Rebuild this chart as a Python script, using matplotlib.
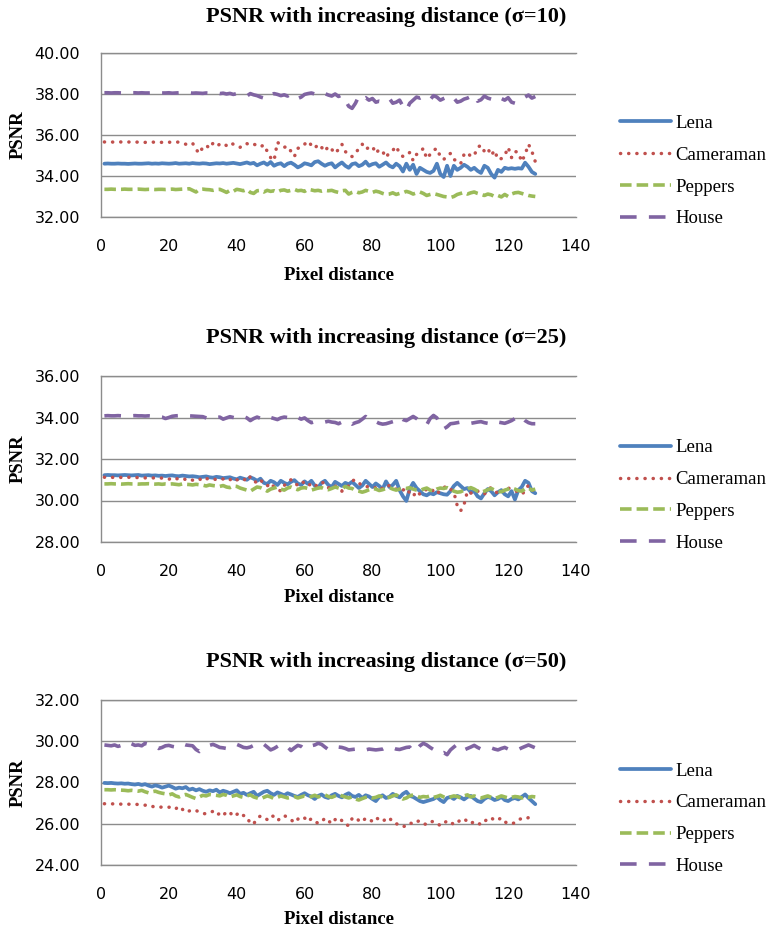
import numpy as np
import matplotlib
matplotlib.use("Agg")
import matplotlib.pyplot as plt

# ---------------- data ----------------
distance = list(range(1, 129))
series_names = ["Lena", "Cameraman", "Peppers", "House"]
titles = ["PSNR with increasing distance (\u03c3=10)",
          "PSNR with increasing distance (\u03c3=25)",
          "PSNR with increasing distance (\u03c3=50)"]
x_ticks = [0, 20, 40, 60, 80, 100, 120, 140]
y_ticks_1 = [32, 34, 36, 38, 40]
y_ticks_2 = [28, 30, 32, 34, 36]
y_ticks_3 = [24, 26, 28, 30, 32]

lena_10 = [
34.60,34.61,34.60,34.60,34.61,34.60,34.60,34.59,34.60,34.61,34.60,34.60,34.61,34.62,34.60,34.61,
34.60,34.62,34.61,34.60,34.61,34.63,34.60,34.61,34.62,34.60,34.63,34.61,34.60,34.62,34.61,34.58,
34.60,34.62,34.61,34.63,34.60,34.62,34.64,34.61,34.58,34.62,34.66,34.60,34.64,34.52,34.60,34.66,
34.55,34.68,34.50,34.58,34.62,34.48,34.60,34.65,34.55,34.42,34.50,34.62,34.58,34.52,34.68,34.72,
34.60,34.50,34.58,34.62,34.42,34.55,34.66,34.50,34.40,34.58,34.62,34.48,34.55,34.70,34.50,34.58,
34.62,34.45,34.55,34.66,34.50,34.42,34.60,34.48,34.22,34.60,34.30,34.55,34.10,34.40,34.30,34.20,
34.15,34.25,34.60,34.10,33.95,34.50,34.00,34.50,34.30,34.40,34.55,34.45,34.30,34.40,34.25,34.15,
34.50,34.40,34.10,33.92,34.30,34.20,34.40,34.35,34.38,34.35,34.38,34.36,34.65,34.45,34.20,34.10]
cameraman_10 = [
35.66,35.66,35.66,35.65,35.66,35.66,35.65,35.66,35.65,35.66,35.65,35.65,35.64,35.65,35.66,35.64,
35.65,35.64,35.66,35.65,35.64,35.66,35.65,35.60,35.55,35.62,35.60,35.30,35.10,35.40,35.50,35.35,
35.60,35.45,35.55,35.60,35.48,35.62,35.55,35.45,35.40,35.55,35.58,35.50,35.55,35.50,35.42,35.52,
35.20,34.90,34.75,35.65,35.50,35.40,35.45,35.20,34.95,35.35,35.40,35.55,35.70,35.50,35.35,35.55,
35.40,35.20,35.45,35.30,35.10,35.30,35.55,35.20,35.00,34.95,35.10,35.35,35.55,35.30,35.40,35.45,
35.10,35.30,35.20,34.90,35.15,35.25,35.45,35.10,34.95,35.00,35.15,34.75,35.05,35.15,35.35,34.85,
35.05,35.25,35.35,34.95,34.80,35.00,35.10,34.80,34.75,34.60,35.05,35.15,34.95,35.00,35.40,35.50,
35.20,35.35,35.00,35.25,34.80,34.85,35.00,35.40,34.90,35.20,35.15,34.70,35.05,35.55,35.20,34.70]
peppers_10 = [
33.35,33.35,33.36,33.35,33.35,33.35,33.36,33.35,33.35,33.35,33.36,33.35,33.34,33.35,33.35,33.34,
33.35,33.35,33.34,33.35,33.36,33.34,33.35,33.36,33.35,33.38,33.30,33.22,33.35,33.36,33.34,33.33,
33.30,33.34,33.35,33.28,33.20,33.30,33.25,33.35,33.32,33.28,33.34,33.20,33.15,33.28,33.30,33.22,
33.30,33.25,33.28,33.22,33.30,33.32,33.26,33.30,33.35,33.28,33.30,33.25,33.35,33.32,33.28,33.30,
33.26,33.30,33.28,33.30,33.24,33.20,33.28,33.30,33.12,33.20,33.25,33.18,33.22,33.30,33.25,33.20,
33.26,33.22,33.15,33.10,33.12,33.18,33.10,33.15,33.18,33.25,33.20,33.12,33.18,33.22,33.15,33.05,
33.10,33.14,33.10,33.05,33.00,32.98,32.95,33.00,33.10,33.15,33.20,33.12,33.18,33.22,33.15,33.10,
33.05,33.12,33.08,33.00,33.05,32.98,33.10,33.00,33.12,33.18,33.20,33.15,33.10,33.05,33.02,33.00]
house_10 = [
38.06,38.06,38.05,38.06,38.06,38.05,38.06,38.05,38.06,38.06,38.05,38.06,38.05,38.05,38.06,38.05,
38.06,38.05,38.05,38.06,38.04,38.05,38.06,38.05,38.04,38.06,38.04,38.05,38.04,38.03,38.05,38.04,
38.04,38.05,38.02,38.04,38.00,38.03,37.98,38.02,37.98,37.95,37.90,38.02,37.96,37.92,37.85,37.80,
38.00,37.95,38.02,37.98,37.92,37.96,37.90,38.00,37.88,37.78,37.85,37.98,38.02,38.05,38.00,37.95,
38.05,38.02,37.95,37.90,38.00,37.88,37.95,37.70,37.40,37.30,37.55,37.90,37.75,37.82,37.70,37.78,
37.60,37.65,37.62,37.72,37.78,37.55,37.60,37.70,37.40,37.20,37.55,37.70,37.85,37.80,37.88,37.82,
37.72,37.92,37.85,37.70,37.78,37.85,37.92,37.80,37.60,37.65,37.75,37.80,37.88,37.95,37.65,37.72,
37.90,37.80,37.75,37.85,37.90,37.78,37.70,37.82,37.60,37.55,37.62,37.70,37.85,37.95,37.80,37.88]

lena_25 = [
31.22,31.23,31.22,31.22,31.21,31.22,31.23,31.22,31.21,31.22,31.23,31.20,31.21,31.22,31.20,31.21,
31.19,31.20,31.18,31.20,31.21,31.18,31.17,31.20,31.18,31.16,31.17,31.15,31.12,31.14,31.16,31.12,
31.10,31.14,31.12,31.08,31.10,31.12,31.06,31.02,31.10,31.05,31.00,31.12,31.05,30.95,31.05,30.85,
30.80,30.95,30.88,30.75,30.95,30.85,30.78,30.90,30.98,30.82,30.75,30.92,30.80,30.95,30.72,30.62,
30.85,30.95,30.75,30.65,30.90,30.80,30.70,30.85,30.78,30.90,30.75,30.60,30.72,30.95,30.80,30.65,
30.82,30.70,30.55,30.92,30.65,30.75,30.95,30.50,30.20,29.98,30.55,30.85,30.60,30.45,30.30,30.25,
30.35,30.30,30.40,30.35,30.30,30.28,30.45,30.70,30.85,30.70,30.55,30.60,30.40,30.45,30.20,30.10,
30.35,30.55,30.45,30.25,30.40,30.50,30.30,30.20,30.45,30.05,30.50,30.65,30.95,30.85,30.45,30.35]
cameraman_25 = [
31.12,31.12,31.11,31.12,31.12,31.11,31.10,31.12,31.11,31.10,31.11,31.10,31.09,31.10,31.08,31.10,
31.09,31.08,31.06,31.02,31.10,31.04,31.06,31.08,31.00,31.05,30.98,31.06,31.04,30.95,31.06,31.02,
31.05,31.00,30.98,31.04,30.95,31.02,30.90,31.00,30.98,31.05,30.92,31.15,30.95,30.85,31.00,30.80,
30.70,30.85,30.65,30.55,30.45,30.72,30.90,31.00,30.80,30.75,30.92,30.85,30.70,30.82,30.68,30.78,
30.90,30.80,30.60,30.75,30.70,30.58,30.45,30.62,30.70,30.95,31.00,30.85,30.70,30.68,30.65,30.60,
30.62,30.70,30.55,30.68,30.72,30.60,30.55,30.45,30.50,30.60,30.35,30.20,30.45,30.30,30.40,30.55,
30.60,30.45,30.30,30.50,30.62,30.70,30.55,30.40,29.75,29.50,29.80,30.45,30.35,30.50,30.45,30.40,
30.30,30.55,30.62,30.45,30.35,30.50,30.40,30.60,30.55,30.48,30.40,30.30,30.45,30.75,30.60,30.30]
peppers_25 = [
30.80,30.80,30.81,30.80,30.80,30.79,30.80,30.81,30.80,30.80,30.79,30.80,30.80,30.81,30.80,30.79,
30.80,30.78,30.80,30.79,30.80,30.78,30.76,30.80,30.78,30.77,30.75,30.78,30.76,30.74,30.70,30.75,
30.72,30.70,30.68,30.72,30.65,30.62,30.70,30.68,30.60,30.55,30.50,30.45,30.55,30.65,30.62,30.55,
30.45,30.55,30.60,30.65,30.55,30.50,30.60,30.65,30.58,30.52,30.60,30.62,30.58,30.50,30.55,30.60,
30.62,30.55,30.52,30.58,30.65,30.60,30.55,30.68,30.60,30.58,30.48,30.45,30.40,30.45,30.52,30.58,
30.55,30.48,30.52,30.58,30.62,30.55,30.50,30.55,30.60,30.58,30.62,30.55,30.50,30.48,30.55,30.60,
30.50,30.45,30.55,30.60,30.58,30.62,30.55,30.45,30.40,30.42,30.50,30.55,30.62,30.55,30.45,30.40,
30.45,30.52,30.58,30.50,30.45,30.42,30.50,30.55,30.62,30.55,30.48,30.45,30.55,30.60,30.50,30.55]
house_25 = [
34.08,34.09,34.08,34.08,34.09,34.08,34.08,34.07,34.08,34.09,34.08,34.08,34.07,34.08,34.06,34.08,
34.05,34.02,33.95,34.00,34.06,34.08,34.09,34.08,34.10,34.08,34.07,34.06,34.05,34.04,33.98,33.92,
33.95,34.00,34.02,33.92,33.98,34.04,34.00,33.96,34.02,34.05,33.98,33.85,33.95,34.02,33.96,33.88,
33.92,34.00,33.95,33.90,33.98,34.02,34.00,33.96,34.05,34.00,33.92,33.98,33.85,33.75,33.80,33.78,
33.80,33.78,33.82,33.78,33.76,33.70,33.78,33.85,33.80,33.68,33.75,33.80,33.92,34.05,33.90,33.85,
33.80,33.72,33.68,33.70,33.75,33.80,33.85,34.02,33.90,33.85,33.95,34.05,33.95,33.82,33.70,33.65,
33.95,34.10,33.98,33.62,33.45,33.55,33.70,33.72,33.75,33.78,33.74,33.70,33.72,33.75,33.78,33.80,
33.75,33.72,33.70,33.80,33.78,33.75,33.72,33.78,33.85,33.95,33.90,34.02,33.85,33.75,33.70,33.70]

lena_50 = [
27.98,27.97,27.98,27.96,27.95,27.96,27.94,27.95,27.92,27.90,27.93,27.88,27.92,27.85,27.80,27.86,
27.82,27.75,27.80,27.85,27.78,27.70,27.75,27.72,27.78,27.65,27.70,27.62,27.68,27.60,27.55,27.62,
27.58,27.65,27.52,27.60,27.55,27.48,27.55,27.62,27.45,27.50,27.40,27.48,27.55,27.35,27.45,27.55,
27.60,27.48,27.40,27.52,27.45,27.38,27.48,27.42,27.35,27.30,27.40,27.48,27.38,27.32,27.20,27.35,
27.42,27.30,27.25,27.38,27.45,27.35,27.28,27.40,27.48,27.35,27.30,27.40,27.25,27.38,27.32,27.20,
27.10,27.30,27.38,27.25,27.30,27.45,27.35,27.28,27.45,27.55,27.35,27.30,27.20,27.10,27.05,27.10,
27.15,27.20,27.30,27.15,27.05,27.25,27.30,27.20,27.35,27.28,27.18,27.30,27.35,27.22,27.10,27.05,
27.20,27.30,27.25,27.15,27.20,27.30,27.15,27.10,27.20,27.25,27.18,27.30,27.42,27.25,27.10,26.95]
cameraman_50 = [
26.97,26.97,26.96,26.97,26.96,26.95,26.96,26.95,26.94,26.95,26.93,26.92,26.90,26.92,26.85,26.80,
26.82,26.80,26.78,26.80,26.82,26.72,26.85,26.70,26.55,26.62,26.68,26.65,26.55,26.50,26.48,26.55,
26.60,26.42,26.50,26.38,26.60,26.55,26.35,26.45,26.55,26.40,26.35,26.00,26.00,26.25,26.38,26.30,
26.20,26.40,26.35,26.15,26.28,26.40,26.30,26.20,26.05,26.22,26.35,26.28,26.10,26.25,26.12,26.02,
26.08,26.28,26.15,26.00,26.20,26.30,26.15,25.95,25.92,26.25,26.32,26.15,26.08,26.28,26.20,26.12,
26.30,26.20,26.10,26.25,26.30,26.05,26.00,25.95,25.85,25.92,26.05,25.98,26.10,26.15,26.02,25.95,
26.08,26.12,26.05,25.90,26.00,26.15,26.10,25.95,26.05,26.20,26.25,26.10,26.00,26.12,26.05,25.95,
26.10,26.25,26.30,26.15,26.20,26.28,26.10,26.00,26.00,26.05,26.20,26.25,26.22,26.30,26.25,26.28]
peppers_50 = [
27.65,27.65,27.64,27.65,27.64,27.63,27.62,27.60,27.62,27.60,27.58,27.62,27.55,27.50,27.55,27.58,
27.52,27.48,27.45,27.40,27.45,27.35,27.30,27.38,27.42,27.35,27.28,27.22,27.30,27.38,27.35,27.42,
27.40,27.38,27.35,27.42,27.38,27.30,27.35,27.40,27.32,27.28,27.35,27.40,27.30,27.25,27.20,27.28,
27.35,27.30,27.22,27.28,27.35,27.30,27.25,27.28,27.32,27.25,27.30,27.35,27.28,27.32,27.38,27.30,
27.35,27.40,27.32,27.28,27.35,27.42,27.35,27.30,27.25,27.30,27.20,27.15,27.22,27.28,27.32,27.25,
27.28,27.35,27.30,27.25,27.28,27.35,27.40,27.30,27.20,27.25,27.35,27.40,27.35,27.28,27.32,27.30,
27.35,27.28,27.32,27.38,27.30,27.25,27.30,27.35,27.32,27.25,27.35,27.40,27.30,27.35,27.28,27.25,
27.30,27.35,27.28,27.22,27.28,27.35,27.30,27.25,27.28,27.32,27.30,27.25,27.30,27.28,27.32,27.30]
house_50 = [
29.82,29.80,29.78,29.82,29.75,29.80,29.92,29.95,29.88,29.80,29.82,29.78,29.90,29.85,29.80,29.75,
29.65,29.70,29.78,29.80,29.75,29.72,29.80,29.88,29.82,29.80,29.78,29.60,29.50,29.62,29.72,29.80,
29.85,29.78,29.70,29.68,29.65,29.72,29.80,29.85,29.78,29.70,29.68,29.72,29.80,29.88,29.92,29.85,
29.72,29.58,29.65,29.75,29.85,29.80,29.72,29.55,29.68,29.80,29.75,29.62,29.70,29.78,29.82,29.90,
29.85,29.72,29.60,29.58,29.68,29.72,29.70,29.65,29.58,29.60,29.62,29.60,29.55,29.58,29.62,29.60,
29.58,29.60,29.62,29.70,29.72,29.68,29.62,29.60,29.65,29.70,29.72,29.50,29.60,29.78,29.90,29.82,
29.70,29.60,29.55,29.40,29.45,29.35,29.58,29.72,29.85,29.70,29.58,29.65,29.72,29.80,29.70,29.62,
29.65,29.70,29.68,29.62,29.58,29.65,29.70,29.62,29.60,29.55,29.60,29.68,29.75,29.82,29.75,29.68]

# ---------------- styling ----------------
W, H = 767, 931
fig = plt.figure(figsize=(W / 100, H / 100), dpi=100)
fig.patch.set_facecolor("white")

serif = ["Liberation Serif", "DejaVu Serif"]
colors = ["#4F81BD", "#C0504D", "#9BBB59", "#8064A2"]
styles = [
    dict(linestyle="-", linewidth=2.7, solid_capstyle="round", solid_joinstyle="round"),
    dict(linestyle=(0, (0.05, 2.3)), linewidth=2.5, dash_capstyle="round"),
    dict(linestyle=(0, (3.2, 1.4)), linewidth=2.6, dash_capstyle="butt"),
    dict(linestyle=(0, (4.6, 3.4)), linewidth=2.6, dash_capstyle="butt"),
]
grid_color = "#8C8C8C"

panels = [
    (titles[0], [lena_10, cameraman_10, peppers_10, house_10], y_ticks_1, 53, 217, 17, 275),
    (titles[1], [lena_25, cameraman_25, peppers_25, house_25], y_ticks_2, 376, 542, 338, 598),
    (titles[2], [lena_50, cameraman_50, peppers_50, house_50], y_ticks_3, 700, 865, 662, 920),
]

ax_left, ax_right = 101, 576
for title, data, yt, top, bot, ty, xly in panels:
    ax = fig.add_axes([ax_left / W, 1 - bot / H, (ax_right - ax_left) / W, (bot - top) / H])
    for name, vals, c, st in zip(series_names, data, colors, styles):
        ax.plot(distance[:len(vals)], vals, color=c, label=name, **st)
    ax.set_xlim(x_ticks[0], x_ticks[-1])
    ax.set_ylim(yt[0], yt[-1])
    ax.set_xticks(x_ticks)
    ax.set_yticks(yt)
    ax.set_yticklabels([f"{v:.2f}" for v in yt])
    ax.grid(axis="y", color=grid_color, linewidth=1.0)
    ax.set_axisbelow(True)
    ax.spines["right"].set_visible(False)
    for s in ["left", "top", "bottom"]:
        ax.spines[s].set_color(grid_color)
        ax.spines[s].set_linewidth(1.0)
    ax.tick_params(axis="both", length=0, labelsize=11.5, colors="black")
    ax.tick_params(axis="y", pad=15)
    ax.tick_params(axis="x", pad=16)
    ax.legend(loc="center left", bbox_to_anchor=(1.093, 0.28), frameon=False,
              borderpad=0, borderaxespad=0, handlelength=2.7, handletextpad=0.25,
              labelspacing=0.78, prop={"family": serif, "size": 13.5})
    fig.text(386.5 / W, 1 - ty / H, title, ha="center", va="center",
             family=serif, fontweight="bold", fontsize=16)
    fig.text(338.5 / W, 1 - xly / H, "Pixel distance", ha="center", va="center",
             family=serif, fontweight="bold", fontsize=13.5)
    fig.text(18 / W, 1 - ((top + bot) / 2) / H, "PSNR", ha="center", va="center",
             rotation=90, family=serif, fontweight="bold", fontsize=13.5)

fig.savefig("out.png", dpi=100, facecolor="white")
